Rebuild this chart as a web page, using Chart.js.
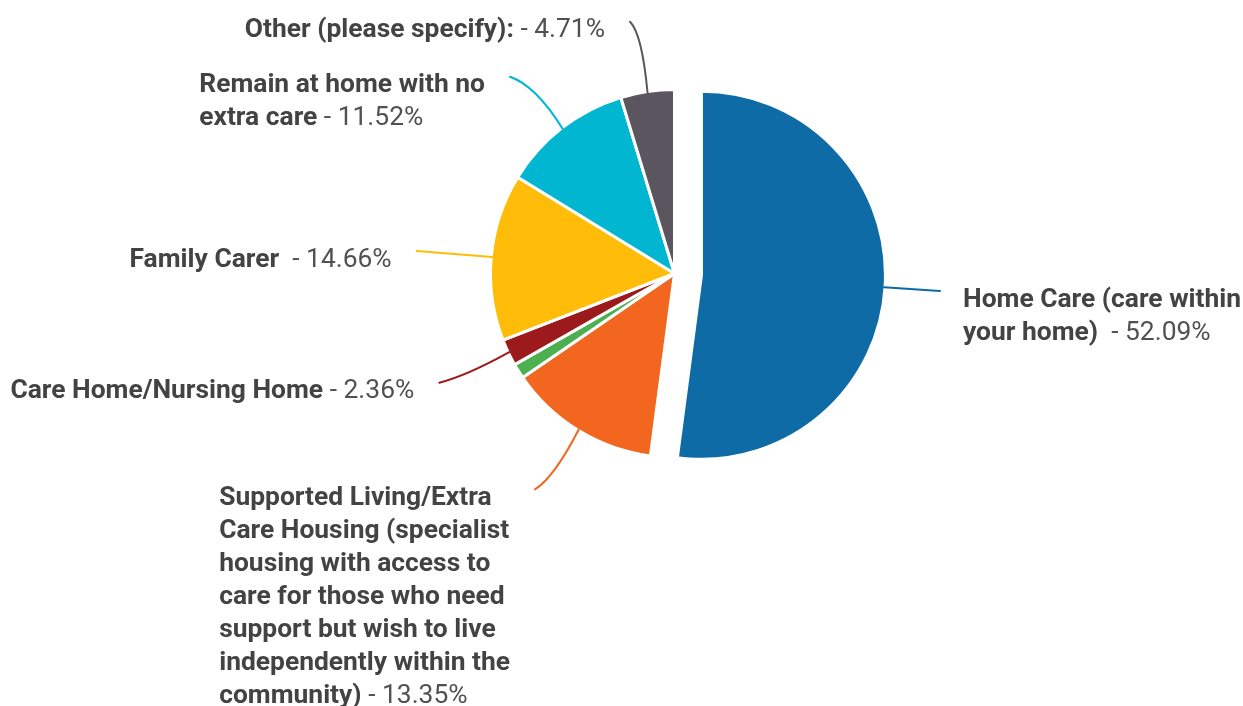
<!DOCTYPE html>
<html>
<head>
<meta charset="utf-8">
<script src="https://cdn.jsdelivr.net/npm/chart.js@4/dist/chart.umd.min.js"></script>
<style>
  html, body { margin: 0; padding: 0; background: #fff; }
  .pie-container { position: relative; width: 1243px; height: 706px; }
</style>
</head>
<body>
<div class="pie-container"><canvas id="pieChart"></canvas></div>
<script>
// data, clockwise from 12 o'clock
const categories = [
  'Home Care (care within your home) ',
  'Supported Living/Extra Care Housing (specialist housing with access to care for those who need support but wish to live independently within the community)',
  '',
  'Care Home/Nursing Home',
  'Family Carer ',
  'Remain at home with no extra care',
  'Other (please specify):'
];
const percentages = [52.09, 13.35, 1.31, 2.36, 14.66, 11.52, 4.71];

const sliceColors = ['#0f6ba5', '#f2661f', '#4caf50', '#9c1a1c', '#ffbd0a', '#00b6d0', '#5b5560'];

// leader line end / curve control point, relative to the pie centre
const labelLayout = [
  { side: 'right', end: [265.5, 17.5], wrap: 280 },
  { side: 'left', end: [-139.5, 215.8], ctrl: [-120.5, 204], wrap: 300 },
  null,
  { side: 'left', end: [-235.2, 109.2], ctrl: [-208.2, 102.4], wrap: 600 },
  { side: 'left', end: [-257.8, -22.5], wrap: 600 },
  { side: 'left', end: [-164.5, -196.8], ctrl: [-138.6, -187.9], wrap: 300 },
  { side: 'left', end: [-44.5, -251.8], ctrl: [-32.5, -239.9], wrap: 600 }
];

const EXPLODE = 27;
const FONT_SIZE = 26.4;
const LINE_HEIGHT = 33;
const BOLD_FONT = `bold ${FONT_SIZE}px Roboto`;
const REG_FONT = `${FONT_SIZE}px Roboto`;

// pull the first slice out of the pie
const explodeSlice = {
  id: 'explodeSlice',
  afterDatasetsUpdate(chart) {
    const arc = chart.getDatasetMeta(0).data[0];
    const mid = (arc.startAngle + arc.endAngle) / 2;
    arc.x += Math.cos(mid) * EXPLODE;
    arc.y += Math.sin(mid) * EXPLODE;
  }
};

function wrapLabel(ctx, category, value, maxWidth) {
  const full = category + ' - ' + value.toFixed(2) + '%';
  const words = [];
  const re = /\S+\s*/g;
  let m;
  while ((m = re.exec(full)) !== null) {
    const bold = m.index < category.length;
    ctx.font = bold ? BOLD_FONT : REG_FONT;
    const text = m[0];
    words.push({
      text,
      bold,
      w: ctx.measureText(text).width,
      wTrim: ctx.measureText(text.trimEnd()).width
    });
  }
  const lines = [];
  let cur = [];
  let curW = 0;
  words.forEach(word => {
    if (cur.length && curW + word.wTrim > maxWidth) {
      lines.push(cur);
      cur = [];
      curW = 0;
    }
    cur.push(word);
    curW += word.w;
  });
  if (cur.length) lines.push(cur);
  return lines.map(line => {
    const last = line[line.length - 1];
    const width = line.reduce((s, w) => s + w.w, 0) - last.w + last.wTrim;
    return { words: line, width };
  });
}

const sliceLabels = {
  id: 'sliceLabels',
  afterDraw(chart) {
    const ctx = chart.ctx;
    const meta = chart.getDatasetMeta(0);
    const cx = meta.data[1].x;
    const cy = meta.data[1].y;
    ctx.save();
    labelLayout.forEach((lay, i) => {
      if (!lay) return;
      const arc = meta.data[i];
      const mid = (arc.startAngle + arc.endAngle) / 2;
      const sx = arc.x + Math.cos(mid) * (arc.outerRadius - 1);
      const sy = arc.y + Math.sin(mid) * (arc.outerRadius - 1);
      const ex = cx + lay.end[0];
      const ey = cy + lay.end[1];

      ctx.beginPath();
      ctx.moveTo(sx, sy);
      if (lay.ctrl) {
        ctx.quadraticCurveTo(cx + lay.ctrl[0], cy + lay.ctrl[1], ex, ey);
      } else {
        ctx.lineTo(ex, ey);
      }
      ctx.lineWidth = 2;
      ctx.strokeStyle = sliceColors[i];
      ctx.lineCap = 'round';
      ctx.stroke();

      const lines = wrapLabel(ctx, categories[i], percentages[i], lay.wrap);
      const blockW = Math.max(...lines.map(l => l.width));
      const x0 = lay.side === 'right' ? ex + 23 : ex - 25 - blockW;
      let y = ey + 9;
      ctx.textBaseline = 'middle';
      ctx.textAlign = 'left';
      lines.forEach(line => {
        let x = x0;
        line.words.forEach(word => {
          ctx.font = word.bold ? BOLD_FONT : REG_FONT;
          ctx.fillStyle = word.bold ? '#434343' : '#515151';
          ctx.fillText(word.text, x, y);
          x += word.w;
        });
        y += LINE_HEIGHT;
      });
    });
    ctx.restore();
  }
};

const ctx = document.getElementById('pieChart').getContext('2d');
new Chart(ctx, {
  type: 'pie',
  data: {
    labels: categories,
    datasets: [{
      data: percentages,
      backgroundColor: sliceColors,
      borderColor: '#ffffff',
      borderWidth: 3,
      radius: 184
    }]
  },
  options: {
    responsive: true,
    maintainAspectRatio: false,
    animation: false,
    layout: { padding: { left: 106, right: 0, top: 0, bottom: 159 } },
    plugins: {
      legend: { display: false },
      tooltip: { enabled: false }
    }
  },
  plugins: [explodeSlice, sliceLabels]
});
</script>
</body>
</html>
